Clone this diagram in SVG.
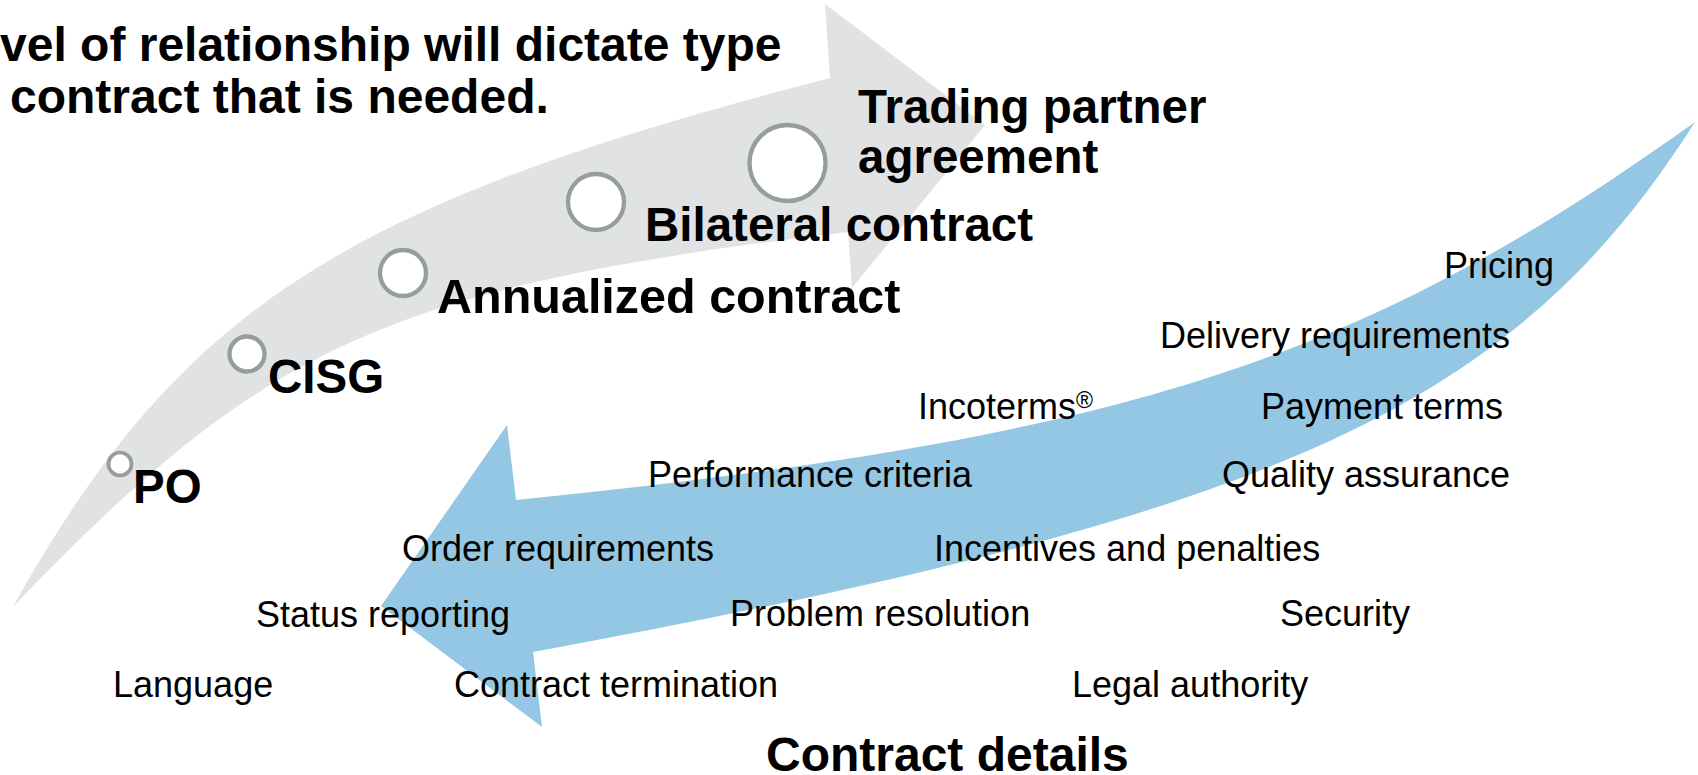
<svg xmlns="http://www.w3.org/2000/svg" width="1698" height="775" viewBox="0 0 1698 775">
<style>
.b{font-family:"Liberation Sans",Arial,sans-serif;font-weight:bold;font-size:47.5px;fill:#000}
.r{font-family:"Liberation Sans",Arial,sans-serif;font-size:36px;fill:#000}
.c{fill:#fff;stroke:#969d9f;stroke-width:4.3}
</style>
<rect width="1698" height="775" fill="#fff"/>
<g id="connectors">
<path id="grey-arrow" d="M13,607 C179,309 342,204 830,78 L825,4 L985,125 L852,288 L848,232 C389,287 264,344 13,607 Z" fill="#e1e2e4"/>
<path id="blue-arrow" d="M1695,122 C1360,362 1124,438 516,500 L507,425 L381,606 L542,727 L533,652 C1281,514 1513,408 1695,122 Z" fill="#94c7e4"/>
</g>
<g id="title">
<text class="b" x="0" y="61" style="font-size:48px">vel of relationship will dictate type</text>
<text class="b" x="10" y="113" style="font-size:48px">contract that is needed.</text>
</g>
<g id="node-po"><circle class="c" cx="120" cy="464" r="11.5" style="stroke-width:3.7"/><text class="b" x="133" y="503">PO</text></g>
<g id="node-cisg"><circle class="c" cx="247" cy="354" r="17.5"/><text class="b" x="268" y="393">CISG</text></g>
<g id="node-annualized"><circle class="c" cx="403" cy="273" r="23"/><text class="b" x="437" y="313" style="font-size:48.5px">Annualized contract</text></g>
<g id="node-bilateral"><circle class="c" cx="596" cy="202" r="28"/><text class="b" x="645" y="241">Bilateral contract</text></g>
<g id="node-trading"><circle class="c" cx="787.5" cy="163" r="38"/><text class="b" x="858" y="123">Trading partner</text><text class="b" x="858" y="173">agreement</text></g>
<g id="details">
<text class="r" x="1444" y="278">Pricing</text>
<text class="r" x="1160" y="348">Delivery requirements</text>
<text class="r" x="918" y="419">Incoterms<tspan font-size="23" dy="-11">®</tspan></text>
<text class="r" x="1261" y="419">Payment terms</text>
<text class="r" x="648" y="487">Performance criteria</text>
<text class="r" x="1222" y="487">Quality assurance</text>
<text class="r" x="402" y="561">Order requirements</text>
<text class="r" x="934" y="561">Incentives and penalties</text>
<text class="r" x="256" y="627">Status reporting</text>
<text class="r" x="730" y="626">Problem resolution</text>
<text class="r" x="1280" y="626">Security</text>
<text class="r" x="113" y="697">Language</text>
<text class="r" x="454" y="697">Contract termination</text>
<text class="r" x="1072" y="697">Legal authority</text>
</g>
<g id="footer"><text class="b" x="766" y="771" style="font-size:48px">Contract details</text></g>
</svg>
